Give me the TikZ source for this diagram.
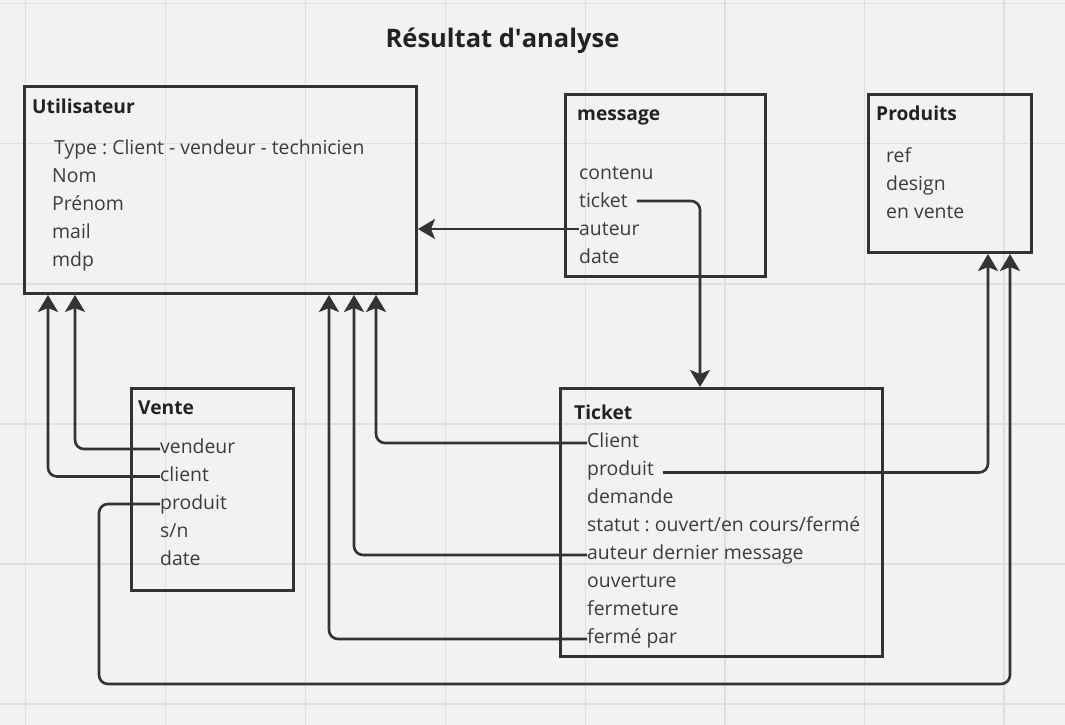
\documentclass[tikz,border=0pt]{standalone}
\usepackage{fontspec}
\setmainfont{Open Sans}
\usetikzlibrary{arrows.meta,calc}
\definecolor{bg}{HTML}{F2F2F2}
\definecolor{gridc}{HTML}{DFDFDF}
\definecolor{ink}{HTML}{333333}
\definecolor{txt}{HTML}{3C3C3C}
\definecolor{hdr}{HTML}{222222}
\frenchspacing
\begin{document}
\begin{tikzpicture}[x=1pt,y=-1pt,
  box/.style={draw=ink,line width=3pt,rectangle,anchor=north west,inner sep=0pt},
  attr/.style={anchor=base west,inner sep=0pt,text=txt,font=\fontsize{19.4}{23}\selectfont},
  hd/.style={anchor=base west,inner sep=0pt,text=hdr,font=\fontsize{19.2}{23}\selectfont\bfseries},
  conn/.style={draw=ink,line width=2.6pt,rounded corners=9pt,-{Stealth[length=17pt,width=20pt,inset=4pt]}}]
% background and grid
\fill[bg] (0,0) rectangle (1065,725);
\useasboundingbox (0,0) rectangle (1065,725);
\foreach \gx in {25.5,165.5,305.5,445.5,585.5,725,864.5,1004}
  \draw[gridc,line width=1.4pt] (\gx,0) -- (\gx,725);
\foreach \gy in {3.5,143.5,284,424,564,704}
  \draw[gridc,line width=1.4pt] (0,\gy) -- (1065,\gy);
% title
\node[anchor=base,inner sep=0pt,text=hdr,font=\fontsize{25.5}{30}\selectfont\bfseries] (title) at (502.5,48) {Résultat d\textquotesingle analyse};
% boxes
\node[box,minimum width=392pt,minimum height=207pt] (U) at (23,85) {};
\node[box,minimum width=200pt,minimum height=182pt] (M) at (564,93) {};
\node[box,minimum width=163pt,minimum height=158pt] (P) at (867,93) {};
\node[box,minimum width=162pt,minimum height=202pt] (V) at (130,387) {};
\node[box,minimum width=322pt,minimum height=268pt] (T) at (559,387) {};
% Utilisateur
\node[hd] (uh) at (32,113) {Utilisateur};
\node[attr] (utype) at (54,154) {Type : Client - vendeur - technicien};
\node[attr] (unom) at (52,182) {Nom};
\node[attr] (upre) at (52,210) {Prénom};
\node[attr] (umail) at (52,238) {mail};
\node[attr] (umdp) at (52,266) {mdp};
% message
\node[hd] (mh) at (577,120) {message};
\node[attr] (mcont) at (579,179) {contenu};
\node[attr] (mtick) at (579,207) {ticket};
\node[attr] (maut) at (579,235) {auteur};
\node[attr] (mdate) at (579,263) {date};
% Produits
\node[hd] (ph) at (876,120) {Produits};
\node[attr] (pref) at (886,162) {ref};
\node[attr] (pdes) at (886,190) {design};
\node[attr] (pvente) at (886,218) {en vente};
% Vente
\node[hd] (vh) at (138,414) {Vente};
\node[attr] (vvend) at (160,453) {vendeur};
\node[attr] (vcli) at (160,481) {client};
\node[attr] (vprod) at (160,509) {produit};
\node[attr] (vsn) at (160,537) {s/n};
\node[attr] (vdate) at (160,565) {date};
% Ticket
\node[hd] (th) at (574,419) {Ticket};
\node[attr] (tcli) at (587,447) {Client};
\node[attr] (tprod) at (587,475) {produit};
\node[attr] (tdem) at (587,503) {demande};
\node[attr] (tstat) at (587,531) {statut : ouvert/en cours/fermé};
\node[attr] (taut) at (587,559) {auteur dernier message};
\node[attr] (touv) at (587,587) {ouverture};
\node[attr] (tfer) at (587,615) {fermeture};
\node[attr] (tfpar) at (587,643) {fermé par};
% connectors
\coordinate (vbot) at (99,684);
\coordinate (ma) at ([yshift=6pt]maut.base west);
\draw[conn] (ma) -- (ma -| U.east);
\draw[conn] ([xshift=9pt,yshift=6pt]mtick.base east) -| ([xshift=141pt]T.north west);
\draw[conn] ([yshift=4pt]vvend.base west) -| ([xshift=52pt]U.south west);
\draw[conn] ([yshift=4.5pt]vcli.base west) -| ([xshift=25pt]U.south west);
\draw[conn] ([yshift=5pt]vprod.base west) -| (vbot) -| ([xshift=143pt]P.south west);
\draw[conn] ([xshift=9pt,yshift=2.5pt]tprod.base east) -| ([xshift=121pt]P.south west);
\draw[conn] ([yshift=4pt]tcli.base west) -| ([xshift=353pt]U.south west);
\draw[conn] ([yshift=4pt]taut.base west) -| ([xshift=331pt]U.south west);
\draw[conn] ([yshift=4pt]tfpar.base west) -| ([xshift=306pt]U.south west);
\end{tikzpicture}
\end{document}
